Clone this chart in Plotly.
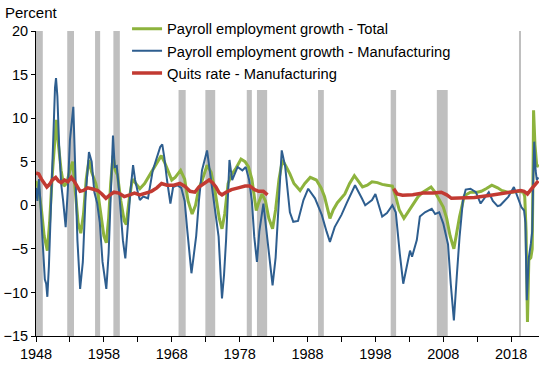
import plotly.graph_objects as go

# ---- data (chart-year positions) ----
total_years = [1948.0, 1948.4, 1948.8, 1949.2, 1949.67, 1950.0, 1950.4, 1950.8, 1951.0, 1951.3, 1951.7,
               1952.1, 1952.5, 1953.0, 1953.4, 1953.8, 1954.2, 1954.6, 1955.0, 1955.4, 1955.8, 1956.2,
               1956.8, 1957.1, 1957.6, 1958.0, 1958.36, 1958.7, 1959.0, 1959.34, 1959.7, 1960.0, 1960.5,
               1961.0, 1961.3, 1961.7, 1962.2, 1962.7, 1963.3, 1964.0, 1964.8, 1965.5, 1966.45, 1966.9,
               1967.4, 1968.0, 1968.5, 1969.3, 1969.9, 1970.4, 1971.0, 1971.5, 1972.0, 1972.5, 1973.2,
               1973.8, 1974.4, 1975.0, 1975.4, 1975.8, 1976.3, 1976.8, 1977.5, 1978.2, 1978.8, 1979.3,
               1979.8, 1980.1, 1980.45, 1980.8, 1981.3, 1981.8, 1982.3, 1982.85, 1983.3, 1983.8, 1984.3,
               1984.8, 1985.4, 1986.0, 1986.9, 1987.6, 1988.4, 1989.3, 1990.0, 1990.5, 1991.0, 1991.3,
               1991.8, 1992.4, 1993.5, 1994.2, 1994.9, 1995.5, 1996.1, 1996.8, 1997.5, 1998.3, 1999.0,
               1999.7, 2000.5, 2001.0, 2001.5, 2002.2, 2002.8, 2003.4, 2004.3, 2005.0, 2005.7, 2006.2,
               2006.8, 2007.45, 2008.0, 2008.5, 2009.0, 2009.56, 2010.0, 2010.4, 2011.1, 2012.0, 2013.0,
               2013.6, 2014.3, 2015.15, 2016.0, 2016.6, 2017.5, 2018.1, 2019.0, 2019.8, 2020.0, 2020.2,
               2020.4, 2020.6, 2020.9, 2021.1, 2021.25, 2021.3, 2021.5, 2021.78, 2022.0]
total_vals = [2.8, 1.8, -0.5, -3.5, -5.2, -2.0, 3.5, 8.5, 9.8, 7.0, 4.0,
              2.2, 2.5, 4.0, 5.0, 1.5, -2.0, -3.2, -1.0, 3.0, 5.2, 3.8,
              2.5, 1.5, -1.5, -3.5, -4.3, -1.5, 2.5, 5.7, 4.0, 3.5, 0.5,
              -1.8, -2.2, 0.5, 3.0, 2.5, 1.9, 2.5, 3.6, 4.5, 5.7, 5.0,
              4.0, 2.9, 3.2, 4.0, 3.0, 0.5, -1.0, 0.0, 2.0, 2.9, 4.6,
              3.8, 1.5, -1.5, -2.7, -1.0, 2.5, 3.5, 4.3, 5.3, 5.0, 4.4,
              3.0, 1.5, -0.6, 0.3, 1.3, 0.5, -1.5, -2.7, -0.5, 3.0, 5.2,
              4.5, 3.6, 2.5, 1.7, 2.5, 3.2, 2.9, 2.0, 1.0, -0.8, -1.5,
              -0.5, 0.3, 1.3, 2.5, 3.4, 2.8, 2.1, 2.3, 2.7, 2.6, 2.4,
              2.3, 2.2, 1.0, -0.5, -1.5, -0.8, -0.2, 1.0, 1.5, 1.9, 2.1,
              1.5, 0.6, -0.2, -1.5, -3.5, -5.0, -3.0, -1.3, 1.1, 1.5, 1.5,
              1.6, 1.9, 2.3, 2.0, 1.7, 1.5, 1.5, 1.6, 1.5, 1.0, -3.0,
              -13.4, -6.3, -6.0, -5.0, 6.0, 10.9, 7.0, 4.4, 4.7]

mfg_years = [1948.0, 1948.2, 1948.45, 1948.7, 1949.0, 1949.3, 1949.5, 1949.67, 1949.9, 1950.2, 1950.5,
             1950.8, 1950.95, 1951.15, 1951.4, 1951.7, 1952.0, 1952.37, 1952.7, 1953.0, 1953.5, 1953.8,
             1954.1, 1954.5, 1954.9, 1955.3, 1955.8, 1956.2, 1956.6, 1957.0, 1957.4, 1957.8, 1958.36,
             1958.7, 1959.0, 1959.34, 1959.6, 1959.9, 1960.2, 1960.47, 1960.8, 1961.16, 1961.5, 1961.9,
             1962.3, 1962.6, 1963.0, 1963.3, 1963.8, 1964.5, 1965.2, 1965.8, 1966.3, 1966.6, 1966.9,
             1967.3, 1967.8, 1968.2, 1968.8, 1969.4, 1969.9, 1970.3, 1970.7, 1970.9, 1971.2, 1971.6,
             1972.0, 1972.45, 1973.2, 1973.6, 1974.0, 1974.5, 1974.9, 1975.2, 1975.4, 1975.7, 1976.0,
             1976.5, 1976.9, 1977.7, 1978.4, 1978.9, 1979.4, 1979.8, 1980.15, 1980.55, 1980.9, 1981.5,
             1981.9, 1982.4, 1982.85, 1983.3, 1983.8, 1984.2, 1984.7, 1985.4, 1985.9, 1986.6, 1987.4,
             1988.1, 1989.1, 1990.1, 1990.8, 1991.3, 1992.0, 1993.0, 1993.8, 1995.0, 1996.0, 1996.5,
             1997.5, 1998.0, 1999.0, 1999.7, 2000.5, 2001.0, 2001.6, 2002.1, 2003.1, 2003.4, 2004.1,
             2004.55, 2005.3, 2006.3, 2006.8, 2007.4, 2008.0, 2008.7, 2009.1, 2009.56, 2010.0, 2010.4,
             2010.9, 2011.3, 2012.0, 2012.8, 2013.5, 2014.0, 2014.7, 2015.3, 2016.0, 2016.4, 2017.0,
             2017.6, 2018.4, 2018.9, 2019.5, 2019.9, 2020.1, 2020.3, 2020.6, 2020.9, 2021.1, 2021.25,
             2021.4, 2021.6, 2021.78, 2022.0]
mfg_vals = [2.0, 0.5, 3.0, -0.5, -4.0, -8.5, -9.0, -10.5, -7.0, 0.0, 6.0,
            13.5, 14.6, 12.5, 7.0, 2.5, 0.5, -2.5, 2.0, 7.5, 11.3, 4.0,
            -4.0, -9.6, -6.5, 1.0, 6.1, 5.0, 1.5, 0.3, -2.0, -6.5, -9.6,
            -5.5, 2.0, 8.0, 4.4, 4.5, 2.0, -1.3, -4.0, -6.1, -2.0, 1.5,
            4.6, 2.9, 1.5, 0.6, 1.0, 0.8, 4.0, 5.5, 6.7, 7.0, 5.5,
            2.9, 0.2, 2.1, 2.3, 2.0, 0.5, -3.0, -6.5, -7.8, -6.0, -3.5,
            0.5, 4.0, 6.3, 4.0, 1.3, -1.0, -3.6, -8.0, -10.7, -8.0, -4.0,
            5.2, 2.9, 4.4, 4.0, 4.4, 2.9, 0.5, -3.6, -6.5, -3.0, 0.2,
            -2.5, -6.5, -9.2, -6.0, 1.0, 6.3, 4.5, -0.8, -1.9, -1.8, 0.6,
            1.9, 0.8, -1.1, -3.0, -4.2, -2.5, -1.1, 0.3, 2.3, 0.8, 0.0,
            0.6, 1.3, -1.3, -0.9, 0.0, -0.8, -5.6, -9.0, -5.2, -5.9, -4.0,
            -1.3, -0.8, -0.4, -1.0, -0.8, -2.1, -4.5, -9.0, -13.2, -8.0, -3.6,
            0.6, 1.8, 1.9, 1.5, 0.2, 0.8, 1.5, 0.5, -0.1, 0.0, 0.5,
            1.0, 2.1, 1.1, -0.2, -0.6, -2.0, -10.9, -6.0, -4.4, -3.0, 3.0,
            7.3, 4.0, 2.9, 3.2]

quits_years = [1948.0, 1948.4, 1948.8, 1949.3, 1949.6, 1950.0, 1950.4, 1950.9, 1951.3, 1951.7, 1952.2,
               1952.7, 1953.2, 1953.6, 1954.0, 1954.5, 1955.0, 1955.6, 1956.2, 1957.1, 1957.7, 1958.3,
               1958.9, 1959.5, 1960.2, 1961.0, 1961.8, 1962.5, 1963.3, 1964.2, 1965.0, 1965.8, 1966.5,
               1967.3, 1968.3, 1969.2, 1969.9, 1970.7, 1971.4, 1972.0, 1972.8, 1973.5, 1974.0, 1974.5,
               1975.0, 1975.4, 1976.0, 1976.8, 1977.8, 1978.8, 1979.5, 1980.2, 1980.8, 1981.5, 1982.1,
               1991.0,
               2000.7, 2001.2, 2002.0, 2003.5, 2005.0, 2006.5, 2007.7, 2008.5, 2009.2, 2010.5, 2012.6,
               2015.0, 2017.5, 2019.4, 2019.9, 2020.4, 2020.9, 2021.4, 2022.0]
quits_vals = [3.7, 3.6, 3.0, 2.4, 2.1, 2.4, 2.9, 3.2, 2.8, 2.6, 2.9,
              2.7, 3.2, 2.8, 2.2, 1.6, 1.7, 2.0, 1.9, 1.7, 1.3, 0.8,
              1.2, 1.5, 1.4, 1.0, 1.2, 1.4, 1.2, 1.4, 1.6, 2.0, 2.5,
              2.3, 2.3, 2.5, 2.2, 1.6, 1.5, 2.1, 2.5, 2.9, 2.6, 2.1,
              1.4, 1.2, 1.5, 1.8, 2.0, 2.2, 2.2, 1.8, 1.6, 1.6, 1.2,
              None,
              1.9, 1.3, 1.15, 1.2, 1.4, 1.4, 1.5, 1.2, 0.8, 0.85, 0.9,
              1.15, 1.5, 1.7, 1.6, 1.3, 1.8, 2.3, 2.8]

recession_starts = [1948.0, 1952.6, 1956.7, 1959.4, 1969.0, 1972.95, 1979.05, 1980.55, 1989.55, 2000.25, 2007.05, 2019.15]
recession_ends = [1949.0, 1953.6, 1957.45, 1960.35, 1970.05, 1974.4, 1979.8, 1982.05, 1990.4, 2001.05, 2008.65, 2019.45]

tick_years = [1948, 1953, 1958, 1963, 1968, 1973, 1978, 1983, 1988, 1993, 1998, 2003, 2008, 2013, 2018]
tick_text = ["1948", "", "1958", "", "1968", "", "1978", "", "1988", "", "1998", "", "2008", "", "2018"]

FONT = "Arial, Liberation Sans, sans-serif"

fig = go.Figure()
fig.add_trace(go.Scatter(x=total_years, y=total_vals, mode="lines",
                         name="Payroll employment growth - Total",
                         line=dict(color="#8DB33D", width=3)))
fig.add_trace(go.Scatter(x=mfg_years, y=mfg_vals, mode="lines",
                         name="Payroll employment growth - Manufacturing",
                         line=dict(color="#2E5E8F", width=2)))
fig.add_trace(go.Scatter(x=quits_years, y=quits_vals, mode="lines",
                         name="Quits rate - Manufacturing", connectgaps=False,
                         line=dict(color="#C23A32", width=3.5)))

for s, e in zip(recession_starts, recession_ends):
    fig.add_shape(type="rect", xref="x", yref="paper", x0=s, x1=e, y0=0, y1=1,
                  fillcolor="#BFBFBF", line=dict(width=0), layer="below")

fig.add_annotation(text="Percent", xref="paper", yref="paper", x=-0.066, y=1.062,
                   xanchor="left", yanchor="middle", showarrow=False,
                   font=dict(family=FONT, size=15, color="#000000"))

fig.update_layout(
    width=550, height=365,
    margin=dict(l=36, r=11, t=31, b=29, autoexpand=False),
    paper_bgcolor="white", plot_bgcolor="white",
    font=dict(family=FONT, size=14, color="#000000"),
    showlegend=True,
    legend=dict(x=0.181, y=1.06, xanchor="left", yanchor="top", bgcolor="white",
                font=dict(family=FONT, size=14.7, color="#000000"),
                tracegroupgap=0, borderwidth=0),
    xaxis=dict(range=[1948, 2022.1], tickvals=tick_years, ticktext=tick_text,
               showgrid=False, zeroline=False, showline=True, linecolor="#000000", linewidth=1,
               ticks="outside", ticklen=5, tickcolor="#000000",
               tickfont=dict(family=FONT, size=14.5, color="#000000")),
    yaxis=dict(range=[-15, 20], dtick=5, tick0=0,
               showgrid=False, zeroline=False, showline=True, linecolor="#000000", linewidth=1,
               ticks="outside", ticklen=4, tickcolor="#000000",
               tickfont=dict(family=FONT, size=14.5, color="#000000")),
)

fig.write_html("out.html", config={"displayModeBar": False},
               post_script="document.body.style.margin='0px';")
